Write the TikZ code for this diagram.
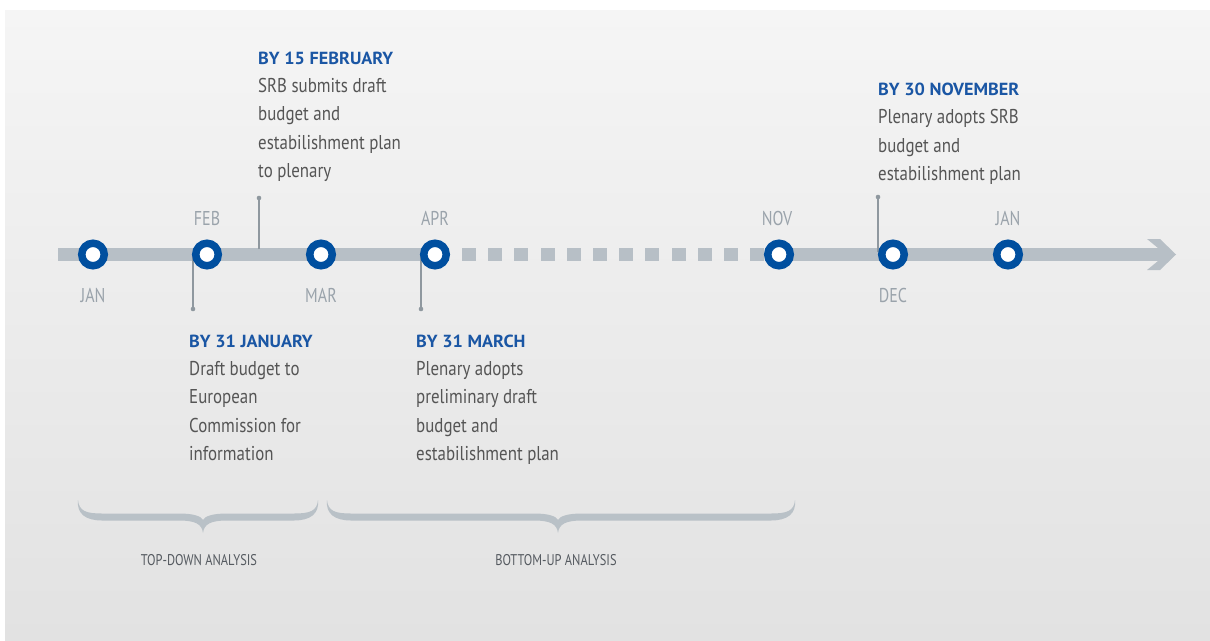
\documentclass[tikz,border=0pt]{standalone}
\usepackage{fontspec}
\setmainfont[FakeStretch=0.8]{PT Sans}
\newfontfamily\bodyfnt[FakeStretch=0.845]{PT Sans}
\newfontfamily\ttlfnt[FakeStretch=1.04]{PT Sans}
\definecolor{barc}{HTML}{B7BFC6}
\definecolor{ringc}{HTML}{004F9F}
\definecolor{monthc}{HTML}{9AA3AB}
\definecolor{bodyc}{HTML}{555555}
\definecolor{titlec}{HTML}{1A56A4}
\definecolor{pinc}{HTML}{8F989F}
\definecolor{bracec}{HTML}{B9C1C7}
\definecolor{bgtop}{HTML}{F5F5F5}
\definecolor{bgbot}{HTML}{E2E2E2}
\definecolor{anac}{HTML}{555A60}
\begin{document}
\begin{tikzpicture}[x=1pt,y=-1pt,
  milestone/.style={circle, draw=ringc, line width=7.5pt, fill=white, minimum size=22.5pt, inner sep=0pt},
  monthlbl/.style={text=monthc, font=\fontsize{20}{20}\selectfont, inner sep=0pt, anchor=base},
  titletxt/.style={text=titlec, font=\ttlfnt\fontsize{17.5}{17.5}\selectfont\bfseries, inner sep=0pt, anchor=base west},
  bodytxt/.style={text=bodyc, font=\bodyfnt\fontsize{20}{20}\selectfont, inner sep=0pt, anchor=base west},
  analysis/.style={text=anac, font=\fontsize{15.5}{15.5}\selectfont, inner sep=0pt, anchor=base},
  pinline/.style={draw=pinc, line width=1.2pt},
  pindot/.style={fill=pinc},
  barfill/.style={fill=barc},
  bracefill/.style={fill=bracec}]
\useasboundingbox (0,0) rectangle (1210,640);
\fill[white] (0,0) rectangle (1210,640);
\shade[top color=bgtop, bottom color=bgbot] (5,10) rectangle (1210,640);

% timeline bar
\fill[barfill] (58,248) rectangle (449,261);
\foreach \i in {0,...,11} \fill[barfill] (462+26.2*\i,248) rectangle ++(14,13);
\fill[barfill] (779,248) rectangle (1158,261);
\fill[barfill] (1147,239) -- (1160,239) -- (1176,254.5) -- (1160,270) -- (1147,270) -- (1158,261) -- (1158,248) -- cycle;

% pins
\coordinate (p1a) at (193,255); \coordinate (p1b) at (193,309);
\coordinate (p2a) at (259,249); \coordinate (p2b) at (259,198);
\coordinate (p3a) at (421,255); \coordinate (p3b) at (421,309);
\coordinate (p4a) at (878,252); \coordinate (p4b) at (878,197);
\draw[pinline] (p1a) -- (p1b); \fill[pindot] (p1b) circle (2.3);
\draw[pinline] (p2a) -- (p2b); \fill[pindot] (p2b) circle (2.3);
\draw[pinline] (p3a) -- (p3b); \fill[pindot] (p3b) circle (2.3);
\draw[pinline] (p4a) -- (p4b); \fill[pindot] (p4b) circle (2.3);

% milestones
\node[milestone] (jan) at (93,254.5) {};
\node[milestone] (feb) at (207,254.5) {};
\node[milestone] (mar) at (321,254.5) {};
\node[milestone] (apr) at (435,254.5) {};
\node[milestone] (nov) at (779,254.5) {};
\node[milestone] (dec) at (893,254.5) {};
\node[milestone] (jan2) at (1008,254.5) {};

% month labels
\node[monthlbl] (ljan) at (93,302) {JAN};
\node[monthlbl] (lfeb) at (207,225) {FEB};
\node[monthlbl] (lmar) at (321,302) {MAR};
\node[monthlbl] (lapr) at (435,225) {APR};
\node[monthlbl] (lnov) at (777,225) {NOV};
\node[monthlbl] (ldec) at (893,302) {DEC};
\node[monthlbl] (ljan2) at (1008,225) {JAN};

% 15 February
\node[titletxt] (t1) at (258,64) {BY 15 FEBRUARY};
\node[bodytxt] (t1a) at (258,92) {SRB submits draft};
\node[bodytxt] (t1b) at (258,120.5) {budget and};
\node[bodytxt] (t1c) at (258,149) {estabilishment plan};
\node[bodytxt] (t1d) at (258,177.5) {to plenary};

% 31 January
\node[titletxt] (t2) at (189,347) {BY 31 JANUARY};
\node[bodytxt] (t2a) at (189,375) {Draft budget to};
\node[bodytxt] (t2b) at (189,403.5) {European};
\node[bodytxt] (t2c) at (189,432) {Commission for};
\node[bodytxt] (t2d) at (189,460.5) {information};

% 31 March
\node[titletxt] (t3) at (416,347) {BY 31 MARCH};
\node[bodytxt] (t3a) at (416,375) {Plenary adopts};
\node[bodytxt] (t3b) at (416,403.5) {preliminary draft};
\node[bodytxt] (t3c) at (416,432) {budget and};
\node[bodytxt] (t3d) at (416,460.5) {estabilishment plan};

% 30 November
\node[titletxt] (t4) at (878,95) {BY 30 NOVEMBER};
\node[bodytxt] (t4a) at (878,123.5) {Plenary adopts SRB};
\node[bodytxt] (t4b) at (878,152) {budget and};
\node[bodytxt] (t4c) at (878,180.5) {estabilishment plan};

% braces
\foreach \xa/\xm/\xb in {78/203/318, 327/558/795}{
  \fill[bracefill] (\xa,500) .. controls (\xa+1,511) and (\xa+8,513.5) .. (\xa+24,513.5)
    -- (\xm-24,513.5) .. controls (\xm-10,513.5) and (\xm-2,516) .. (\xm,520)
    .. controls (\xm+2,516) and (\xm+10,513.5) .. (\xm+24,513.5)
    -- (\xb-24,513.5) .. controls (\xb-8,513.5) and (\xb-1,511) .. (\xb,500)
    .. controls (\xb+1.5,514) and (\xb-8,520.5) .. (\xb-24,520.5)
    -- (\xm+24,520.5) .. controls (\xm+8,520.5) and (\xm+1,524) .. (\xm,533)
    .. controls (\xm-1,524) and (\xm-8,520.5) .. (\xm-24,520.5)
    -- (\xa+24,520.5) .. controls (\xa+8,520.5) and (\xa-1.5,514) .. (\xa,500) -- cycle;
}
\node[analysis] (td) at (199,565) {TOP-DOWN ANALYSIS};
\node[analysis] (bu) at (556,565) {BOTTOM-UP ANALYSIS};
\end{tikzpicture}
\end{document}
